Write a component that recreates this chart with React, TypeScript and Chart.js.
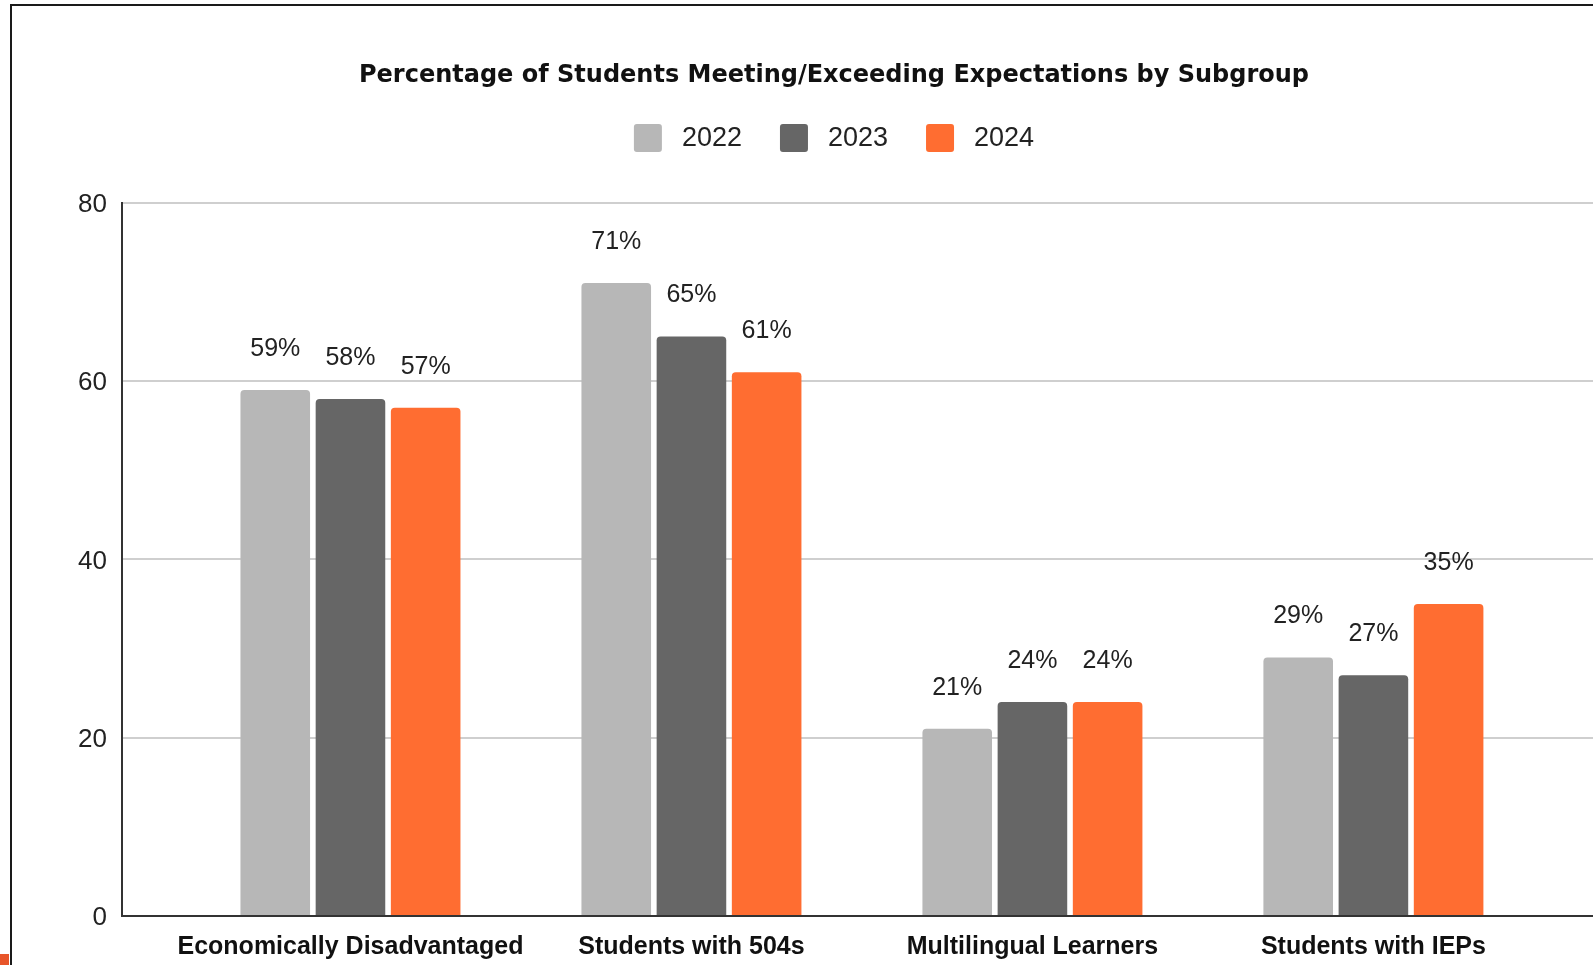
import React, { useEffect, useRef } from "react";
import { Chart, registerables } from "chart.js";

Chart.register(...registerables);

// ---- data ----
const categories = [
  "Economically Disadvantaged",
  "Students with 504s",
  "Multilingual Learners",
  "Students with IEPs",
];
const years = ["2022", "2023", "2024"];
const values2022 = [59, 71, 21, 29];
const values2023 = [58, 65, 24, 27];
const values2024 = [57, 61, 24, 35];
const seriesColors = ["#b7b7b7", "#666666", "#ff6d31"];
const yTickStep = 20;
const yMin = 0;
const yMax = 80;
const chartTitle =
  "Percentage of Students Meeting/Exceeding Expectations by Subgroup";

// ---- layout constants ----
const W = 1593;
const H = 965;
const X_MIN = -0.67;
const X_MAX = 3.644;
const SANS = '"Liberation Sans", Arial, sans-serif';

const legendPlugin = {
  id: "customLegend",
  afterDraw(chart: any) {
    const ctx = chart.ctx;
    const tb = chart.titleBlock;
    const cx = tb ? (tb.left + tb.right) / 2 : chart.width / 2;
    const cy = 138;
    const box = 28;
    const gap = 20;
    const spacing = 38;
    ctx.save();
    ctx.font = `27px ${SANS}`;
    const widths = chart.data.datasets.map(
      (ds: any) => ctx.measureText(ds.label).width
    );
    const total =
      widths.reduce((a: number, w: number) => a + box + gap + w, 0) +
      spacing * (widths.length - 1);
    let x = cx - total / 2;
    chart.data.datasets.forEach((ds: any, i: number) => {
      ctx.fillStyle = ds.backgroundColor;
      ctx.beginPath();
      ctx.roundRect(x, cy - box / 2, box, box, 3);
      ctx.fill();
      x += box + gap;
      ctx.fillStyle = "#222";
      ctx.textAlign = "left";
      ctx.textBaseline = "middle";
      ctx.fillText(ds.label, x, cy + 1);
      x += widths[i] + spacing;
    });
    ctx.restore();
  },
};

const dataLabelPlugin = {
  id: "dataLabels",
  afterDatasetsDraw(chart: any) {
    const ctx = chart.ctx;
    ctx.save();
    ctx.font = `25px ${SANS}`;
    ctx.fillStyle = "#222";
    ctx.textAlign = "center";
    ctx.textBaseline = "middle";
    chart.data.datasets.forEach((ds: any, di: number) => {
      const meta = chart.getDatasetMeta(di);
      meta.data.forEach((bar: any, i: number) => {
        const v = ds.data[i].y;
        ctx.fillText(`${v}%`, bar.x, bar.y - 41);
      });
    });
    ctx.restore();
  },
};

export default function App() {
  const canvasRef = useRef<HTMLCanvasElement | null>(null);

  useEffect(() => {
    if (!canvasRef.current) return;
    const series = [values2022, values2023, values2024];
    const chart = new Chart(canvasRef.current, {
      type: "bar",
      data: {
        datasets: series.map((vals, si) => ({
          label: years[si],
          data: vals.map((v, i) => ({ x: i, y: v })),
          backgroundColor: seriesColors[si],
          borderRadius: 4,
          categoryPercentage: 0.6616,
          barPercentage: 0.9255,
        })),
      },
      options: {
        responsive: false,
        animation: false,
        devicePixelRatio: 1,
        layout: { padding: { left: 75, right: 0, top: 0, bottom: 0 } },
        plugins: {
          legend: { display: false },
          tooltip: { enabled: false },
          title: {
            display: true,
            text: chartTitle,
            color: "#111",
            font: { family: '"DejaVu Sans"', size: 24, weight: "bold" },
            padding: { top: 61, bottom: 113 },
          },
        },
        scales: {
          x: {
            type: "linear",
            offset: false,
            min: X_MIN,
            max: X_MAX,
            grid: { display: false, drawTicks: false, offset: false },
            border: { display: true, color: "#333", width: 2 },
            afterFit: (scale: any) => {
              scale.height = 49;
            },
            ticks: {
              stepSize: 1,
              includeBounds: false,
              autoSkip: false,
              minRotation: 0,
              maxRotation: 0,
              padding: 16,
              color: "#111",
              font: { family: SANS, size: 25, weight: "bold" },
              callback: (v: any) => categories[Number(v)] ?? "",
            },
          },
          y: {
            min: yMin,
            max: yMax,
            grid: { color: "#cfcfcf", lineWidth: 2, drawTicks: false },
            border: { display: true, color: "#333", width: 2 },
            afterFit: (scale: any) => {
              scale.width = 47;
            },
            ticks: {
              stepSize: yTickStep,
              padding: 15,
              labelOffset: 2,
              color: "#222",
              font: { family: SANS, size: 26 },
            },
          },
        },
      },
      plugins: [dataLabelPlugin, legendPlugin],
    });
    return () => chart.destroy();
  }, []);

  return (
    <div
      style={{
        position: "fixed",
        left: 0,
        top: 0,
        width: W,
        height: H,
        overflow: "hidden",
        background: "#fff",
      }}
    >
      <canvas
        ref={canvasRef}
        width={W}
        height={H}
        style={{ position: "absolute", left: 0, top: 0, width: W, height: H }}
      />
      <div
        style={{
          position: "absolute",
          left: 10,
          top: 4,
          width: W + 100,
          height: H + 100,
          borderTop: "2px solid #1a1a1a",
          borderLeft: "2px solid #1a1a1a",
          pointerEvents: "none",
        }}
      />
      <div
        style={{
          position: "absolute",
          left: 0,
          top: 954,
          width: 9,
          height: 11,
          background: "#e8552a",
        }}
      />
    </div>
  );
}
